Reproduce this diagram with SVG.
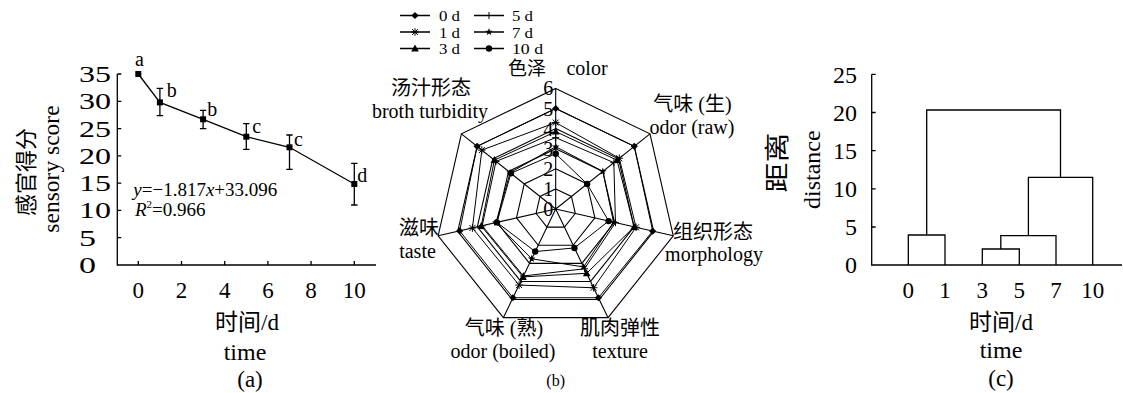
<svg xmlns="http://www.w3.org/2000/svg" width="1123" height="393" viewBox="0 0 1123 393">
<style>
text{font-family:"Liberation Serif","Noto Sans CJK SC",serif;fill:#000}
.ln{stroke:#000;stroke-width:1.3;fill:none}
.gr{stroke:#000;stroke-width:1.1;fill:none}
.ser{stroke:#000;stroke-width:1;fill:none}
.t20{font-size:20px}
.t23{font-size:23px}
.mid{text-anchor:middle}
.end{text-anchor:end}
</style>
<defs>
<polygon id="dia" points="0,-3.6 3.6,0 0,3.6 -3.6,0" fill="#000"/>
<path id="ast" d="M-3,-3L3,3M-3,3L3,-3M0,-3.8V3.8M-3.8,0H3.8" stroke="#000" stroke-width="1" fill="none"/>
<polygon id="tri" points="0,-4 3.8,3 -3.8,3" fill="#000"/>
<path id="pls" d="M-3.5,0H3.5M0,-3.5V3.5" stroke="#000" stroke-width="1" fill="none"/>
<polygon id="star" points="0,-4 0.94,-1.29 3.8,-1.24 1.52,0.49 2.35,3.24 0,1.6 -2.35,3.24 -1.52,0.49 -3.8,-1.24 -0.94,-1.29" fill="#000"/>
<circle id="cir" r="3.2" fill="#000"/>
<rect id="sq" x="-3" y="-3" width="6" height="6" fill="#000"/>
</defs>

<!-- Panel (a) -->
<g id="panel-a">
<g id="a-axes">
<path class="ln" d="M117.3,74V265H376"/>
<path class="ln" d="M117.3,74h4M117.3,101.3h4M117.3,128.6h4M117.3,155.9h4M117.3,183.1h4M117.3,210.4h4M117.3,237.7h4"/>
<path class="ln" d="M138.3,265v-4M181.5,265v-4M224.7,265v-4M267.9,265v-4M311.1,265v-4M354.3,265v-4"/>
</g>
<g id="a-yticks" style="font-size:24px">
<text x="79" y="82" textLength="32" lengthAdjust="spacingAndGlyphs">35</text>
<text x="79" y="109.3" textLength="32" lengthAdjust="spacingAndGlyphs">30</text>
<text x="79" y="136.6" textLength="32" lengthAdjust="spacingAndGlyphs">25</text>
<text x="79" y="163.9" textLength="32" lengthAdjust="spacingAndGlyphs">20</text>
<text x="79" y="191.1" textLength="32" lengthAdjust="spacingAndGlyphs">15</text>
<text x="79" y="218.4" textLength="32" lengthAdjust="spacingAndGlyphs">10</text>
<text x="79" y="245.7" textLength="17" lengthAdjust="spacingAndGlyphs">5</text>
<text x="79" y="273" textLength="17" lengthAdjust="spacingAndGlyphs">0</text>
</g>
<g id="a-xticks" class="t23 mid">
<text x="138.3" y="298">0</text>
<text x="181.5" y="298">2</text>
<text x="224.7" y="298">4</text>
<text x="267.9" y="298">6</text>
<text x="311.1" y="298">8</text>
<text x="354.3" y="298">10</text>
</g>
<g id="a-data">
<polyline class="ln" points="138.3,74 159.9,102.4 203.1,119.3 246.3,136.7 289.5,147.3 354.3,184"/>
<path class="ln" d="M159.9,88.3V115.7M156.7,88.3h6.4M156.7,115.7h6.4M203.1,110.3V128.7M199.9,110.3h6.4M199.9,128.7h6.4M246.3,123.7V149.3M243.1,123.7h6.4M243.1,149.3h6.4M289.5,135V169.3M286.3,135h6.4M286.3,169.3h6.4M354.3,163.3V205M351.1,163.3h6.4M351.1,205h6.4"/>
<use href="#sq" x="138.3" y="74"/>
<use href="#sq" x="159.9" y="102.4"/>
<use href="#sq" x="203.1" y="119.3"/>
<use href="#sq" x="246.3" y="136.7"/>
<use href="#sq" x="289.5" y="147.3"/>
<use href="#sq" x="354.3" y="184"/>
</g>
<g id="a-letters" class="t20">
<text x="135" y="65.7">a</text>
<text x="166.7" y="97.3">b</text>
<text x="207.3" y="115.7">b</text>
<text x="252.3" y="133.3">c</text>
<text x="294" y="145.7">c</text>
<text x="357.3" y="181.7">d</text>
</g>
<g id="a-eq" style="font-size:19px">
<text x="133.3" y="196"><tspan font-style="italic">y</tspan>=−1.817<tspan font-style="italic">x</tspan>+33.096</text>
<text x="135" y="216"><tspan font-style="italic">R</tspan><tspan font-size="11" dy="-8">2</tspan><tspan dy="8">=0.966</tspan></text>
</g>
<g id="a-labels">
<text transform="translate(33.5,172) rotate(-90)" class="mid" style="font-size:22px" textLength="88" lengthAdjust="spacingAndGlyphs">感官得分</text>
<text transform="translate(59,169) rotate(-90)" class="mid" style="font-size:23.5px">sensory score</text>
<text x="247" y="330" class="mid t23">时间/d</text>
<text x="245" y="360" class="mid" style="font-size:24px">time</text>
<text x="250" y="387" class="mid t23">(a)</text>
</g>
</g>

<!-- Panel (b) legend -->
<g id="legend">
<path class="ln" d="M400,15.5H430M400,32H430M400,48.5H430M474,15.5H504M474,32H504M474,48.5H504" stroke-width="1.2"/>
<use href="#dia" x="415" y="15.5"/>
<use href="#ast" x="415" y="32"/>
<use href="#tri" x="415" y="48.5"/>
<use href="#pls" x="489" y="15.5"/>
<use href="#star" x="489" y="32"/>
<use href="#cir" x="489" y="48.5"/>
<g style="font-size:14.5px">
<text x="439" y="21" textLength="21" lengthAdjust="spacingAndGlyphs">0 d</text>
<text x="439" y="37.5" textLength="21" lengthAdjust="spacingAndGlyphs">1 d</text>
<text x="439" y="54" textLength="21" lengthAdjust="spacingAndGlyphs">3 d</text>
<text x="512" y="21" textLength="21" lengthAdjust="spacingAndGlyphs">5 d</text>
<text x="512" y="37.5" textLength="21" lengthAdjust="spacingAndGlyphs">7 d</text>
<text x="512" y="54" textLength="31" lengthAdjust="spacingAndGlyphs">10 d</text>
</g>
</g>

<!-- Panel (b) radar -->
<g id="radar" transform="translate(555.7,209)">
<g id="radar-grid">
<polygon class="gr" points="0,-20.1 15.71,-12.53 19.60,4.47 8.72,18.11 -8.72,18.11 -19.60,4.47 -15.71,-12.53"/>
<polygon class="gr" points="0,-40.2 31.43,-25.06 39.19,8.94 17.44,36.22 -17.44,36.22 -39.19,8.94 -31.43,-25.06"/>
<polygon class="gr" points="0,-60.3 47.14,-37.60 58.79,13.42 26.16,54.33 -26.16,54.33 -58.79,13.42 -47.14,-37.60"/>
<polygon class="gr" points="0,-80.4 62.86,-50.13 78.38,17.89 34.89,72.44 -34.89,72.44 -78.38,17.89 -62.86,-50.13"/>
<polygon class="gr" points="0,-100.5 78.57,-62.66 97.98,22.36 43.61,90.55 -43.61,90.55 -97.98,22.36 -78.57,-62.66"/>
<polygon class="gr" points="0,-120.6 94.28,-75.19 117.57,26.83 52.33,108.66 -52.33,108.66 -117.57,26.83 -94.28,-75.19"/>
<path class="gr" d="M0,0V-120.6M0,0L94.28,-75.19M0,0L117.57,26.83M0,0L52.33,108.66M0,0L-52.33,108.66M0,0L-117.57,26.83M0,0L-94.28,-75.19"/>
</g>
<g id="radar-ticks" class="t20 end">
<text x="-2.5" y="7">0</text>
<text x="-2.5" y="-13.1">1</text>
<text x="-2.5" y="-33.2">2</text>
<text x="-2.5" y="-53.3">3</text>
<text x="-2.5" y="-73.4">4</text>
<text x="-2.5" y="-93.5">5</text>
<text x="-2.5" y="-113.6">6</text>
</g>
<g id="series-0d">
<polygon class="ser" points="0,-100.5 78.57,-62.66 97.00,22.14 42.74,88.74 -42.74,88.74 -96.02,21.91 -78.57,-62.66"/>
<use href="#dia" x="0" y="-100.5"/><use href="#dia" x="78.57" y="-62.66"/><use href="#dia" x="97" y="22.14"/><use href="#dia" x="42.74" y="88.74"/><use href="#dia" x="-42.74" y="88.74"/><use href="#dia" x="-96.02" y="21.91"/><use href="#dia" x="-78.57" y="-62.66"/>
</g>
<g id="series-1d">
<polygon class="ser" points="0,-86.43 63.64,-50.76 80.34,18.34 37.94,78.78 -36.63,76.06 -83.28,19.01 -73.86,-58.90"/>
<use href="#ast" x="0" y="-86.43"/><use href="#ast" x="63.64" y="-50.76"/><use href="#ast" x="80.34" y="18.34"/><use href="#ast" x="37.94" y="78.78"/><use href="#ast" x="-36.63" y="76.06"/><use href="#ast" x="-83.28" y="19.01"/><use href="#ast" x="-73.86" y="-58.9"/>
</g>
<g id="series-3d">
<polygon class="ser" points="0,-77.39 61.29,-48.88 78.38,17.89 30.96,64.29 -32.71,67.91 -74.46,16.99 -61.29,-48.88"/>
<use href="#tri" x="0" y="-77.39"/><use href="#tri" x="61.29" y="-48.88"/><use href="#tri" x="78.38" y="17.89"/><use href="#tri" x="30.96" y="64.29"/><use href="#tri" x="-32.71" y="67.91"/><use href="#tri" x="-74.46" y="16.99"/><use href="#tri" x="-61.29" y="-48.88"/>
</g>
<g id="series-5d">
<polygon class="ser" points="0,-71.36 58.14,-46.37 59.77,13.64 28.78,59.76 -32.27,67.01 -73.49,16.77 -59.71,-47.62"/>
<use href="#pls" x="0" y="-71.36"/><use href="#pls" x="58.14" y="-46.37"/><use href="#pls" x="59.77" y="13.64"/><use href="#pls" x="28.78" y="59.76"/><use href="#pls" x="-32.27" y="67.01"/><use href="#pls" x="-73.49" y="16.77"/><use href="#pls" x="-59.71" y="-47.62"/>
</g>
<g id="series-7d">
<polygon class="ser" points="0,-62.31 47.14,-37.60 57.81,13.19 27.91,57.95 -23.99,49.81 -59.77,13.64 -45.57,-36.34"/>
<use href="#star" x="0" y="-62.31"/><use href="#star" x="47.14" y="-37.6"/><use href="#star" x="57.81" y="13.19"/><use href="#star" x="27.91" y="57.95"/><use href="#star" x="-23.99" y="49.81"/><use href="#star" x="-59.77" y="13.64"/><use href="#star" x="-45.57" y="-36.34"/>
</g>
<g id="series-10d">
<polygon class="ser" points="0,-55.28 31.43,-25.06 52.91,12.08 18.75,38.94 -20.50,42.56 -58.79,13.42 -44.79,-35.72"/>
<use href="#cir" x="0" y="-55.28"/><use href="#cir" x="31.43" y="-25.06"/><use href="#cir" x="52.91" y="12.08"/><use href="#cir" x="18.75" y="38.94"/><use href="#cir" x="-20.5" y="42.56"/><use href="#cir" x="-58.79" y="13.42"/><use href="#cir" x="-44.79" y="-35.72"/>
</g>
</g>
<g id="radar-labels" class="t20 mid">
<text x="527" y="75" style="font-size:19px">色泽</text>
<text x="587" y="75">color</text>
<text x="431" y="95">汤汁形态</text>
<text x="430" y="118">broth turbidity</text>
<text x="692.5" y="111">气味 (生)</text>
<text x="692" y="134">odor (raw)</text>
<text x="713" y="239">组织形态</text>
<text x="714" y="261">morphology</text>
<text x="620" y="335">肌肉弹性</text>
<text x="620" y="358">texture</text>
<text x="504" y="335">气味 (熟)</text>
<text x="503" y="358">odor (boiled)</text>
<text x="419" y="235">滋味</text>
<text x="417.5" y="258">taste</text>
<text x="555.7" y="386" style="font-size:16px">(b)</text>
</g>

<!-- Panel (c) -->
<g id="panel-c">
<g id="c-axes">
<path class="ln" d="M871.7,74.3V265H1122"/>
<path class="ln" d="M871.7,74.3h4M871.7,112.5h4M871.7,150.7h4M871.7,188.8h4M871.7,227h4"/>
</g>
<g id="c-yticks" class="end" style="font-size:24px">
<text x="857" y="82.5">25</text>
<text x="857" y="120.7">20</text>
<text x="857" y="158.9">15</text>
<text x="857" y="197">10</text>
<text x="857" y="235.2">5</text>
<text x="857" y="273.2">0</text>
</g>
<g id="c-xticks" class="t23 mid">
<text x="908.3" y="298">0</text>
<text x="945" y="298">1</text>
<text x="982.3" y="298">3</text>
<text x="1019.3" y="298">5</text>
<text x="1056" y="298">7</text>
<text x="1092.7" y="298">10</text>
</g>
<g id="dendrogram">
<path class="ln" d="M908.3,265V235H945V265"/>
<path class="ln" d="M982.3,265V249H1019.3V265"/>
<path class="ln" d="M1000.8,249V235.7H1056V265"/>
<path class="ln" d="M1028.4,235.7V177.3H1092.7V265"/>
<path class="ln" d="M926.7,235V110H1060.5V177.3"/>
</g>
<g id="c-labels">
<text transform="translate(786,162.5) rotate(-90)" class="mid" style="font-size:25px" textLength="60" lengthAdjust="spacingAndGlyphs">距离</text>
<text transform="translate(820,169.7) rotate(-90)" class="mid" style="font-size:24px">distance</text>
<text x="1001" y="330" class="mid t23">时间/d</text>
<text x="1001" y="358" class="mid" style="font-size:24px">time</text>
<text x="1001" y="386" class="mid t23">(c)</text>
</g>
</g>
</svg>
